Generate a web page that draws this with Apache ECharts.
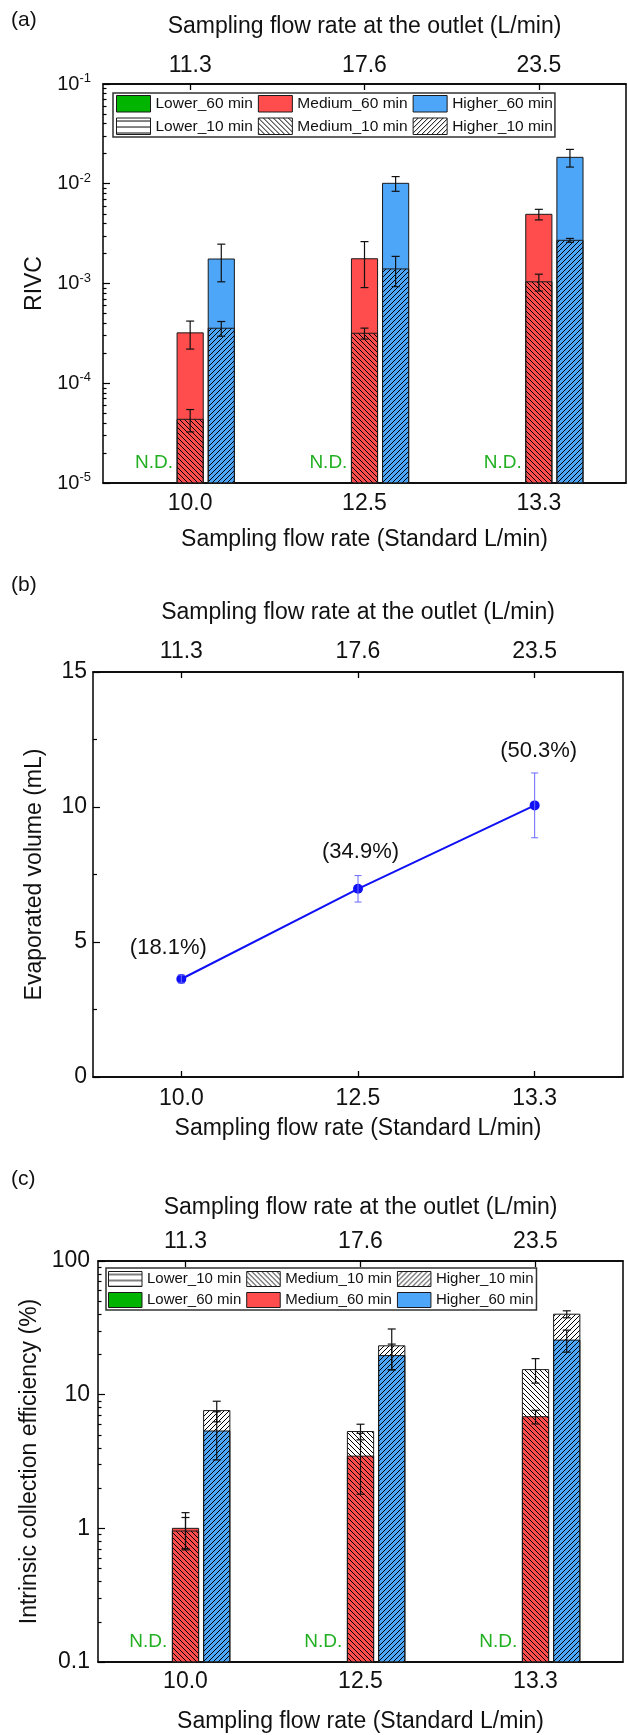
<!DOCTYPE html>
<html>
<head>
<meta charset="utf-8">
<script src="https://cdn.jsdelivr.net/npm/echarts@6/dist/echarts.min.js"></script>
<style>
  html, body { margin: 0; padding: 0; background: #fff; }
  #chart { width: 628px; height: 1735px; }
</style>
</head>
<body>
<div id="chart"></div>
<script>
// categories
const flowStd = ['10.0', '12.5', '13.3'];
const flowOutlet = ['11.3', '17.6', '23.5'];
const ndMarks = ['N.D.', 'N.D.', 'N.D.'];   // Lower group not detected

// (a) RIVC
const aMedium60 = [3.2e-4, 1.77e-3, 4.94e-3];
const aMedium60Err = [1.0e-4, 0.86e-3, 0.6e-3];
const aMedium10 = [4.35e-5, 3.17e-4, 1.04e-3];
const aMedium10Err = [1.1e-5, 0.4e-4, 0.2e-3];
const aHigher60 = [1.76e-3, 1.01e-2, 1.84e-2];
const aHigher60Err = [0.72e-3, 0.17e-2, 0.37e-2];
const aHigher10 = [3.56e-4, 1.40e-3, 2.71e-3];
const aHigher10Err = [0.6e-4, 0.47e-3, 0.12e-3];

// (b) evaporated volume (mL)
const evapVol = [3.63, 6.97, 10.06];
const evapErr = [0.15, 0.49, 1.2];
const evapPct = ['(18.1%)', '(34.9%)', '(50.3%)'];

// (c) intrinsic collection efficiency (%)
const cMedium10 = [0.955, 5.3, 15.4];
const cMedium10Err = [0.25, 0.71, 3.2];
const cMedium60 = [1.0, 3.47, 6.84];
const cMedium60Err = [0.31, 1.67, 0.8];
const cHigher10 = [7.6, 23.2, 40.0];
const cHigher10Err = [1.33, 7.8, 2.4];
const cHigher60 = [5.35, 19.6, 25.6];
const cHigher60Err = [2.1, 4.3, 4.8];

const FONT = "'Liberation Sans', Arial, sans-serif";
const TXT = '#111';
const RED = '#ff4d4d', BLUE = '#4ea6f8', GREEN = '#00b400';
const BAR_W = 0.15, BAR_GAP = 0.19;

// hatch fills, transparent background so the solid bar shows through
function hatch(kind) {
  const s = kind === 'h' ? 6 : 5;
  const c = document.createElement('canvas');
  c.width = s; c.height = s;
  const g = c.getContext('2d');
  g.strokeStyle = '#000';
  g.lineWidth = 1;
  g.beginPath();
  if (kind === 'h') {
    g.moveTo(0, 3); g.lineTo(s, 3);
  } else {
    for (const k of [-s, 0, s]) {
      if (kind === '\\') { g.moveTo(k, 0); g.lineTo(k + s, s); }
      else { g.moveTo(k, s); g.lineTo(k + s, 0); }
    }
  }
  g.stroke();
  return { image: c, repeat: 'repeat' };
}

// bars on a log axis must start at the axis minimum, so they are drawn as custom rects
function slotShift(api, slot) {
  const band = api.size([1, 0])[0];
  return { w: band * BAR_W, dx: slot * band * BAR_W * (1 + BAR_GAP) };
}

function bars(name, vals, slot, xi, yi, fill, base, z) {
  return {
    type: 'custom', name: name, xAxisIndex: xi, yAxisIndex: yi, z: z, silent: true,
    itemStyle: { color: fill, borderColor: '#1a1a1a', borderWidth: 1 },
    data: vals.map((v, i) => [i, v]),
    renderItem: function (params, api) {
      const i = api.value(0), v = api.value(1);
      const s = slotShift(api, slot);
      const top = api.coord([i, v]);
      const bot = api.coord([i, base]);
      return {
        type: 'rect',
        shape: { x: top[0] + s.dx - s.w / 2, y: top[1], width: s.w, height: bot[1] - top[1] },
        style: { fill: fill, stroke: '#1a1a1a', lineWidth: 1 }
      };
    }
  };
}

// Lower group: nothing detected, only the green N.D. note on the baseline
function lowerND(name, slot, xi, yi, fill, base, offX, showText, z) {
  return {
    type: 'custom', name: name, xAxisIndex: xi, yAxisIndex: yi, z: z, silent: true,
    itemStyle: { color: fill, borderColor: '#1a1a1a', borderWidth: 1 },
    data: ndMarks.map((t, i) => [i, base]),
    renderItem: function (params, api) {
      const i = api.value(0);
      if (!showText || !ndMarks[i]) return;
      const s = slotShift(api, slot);
      const p = api.coord([i, base]);
      return {
        type: 'text', x: p[0] + s.dx + offX, y: p[1] - 20,
        style: { text: ndMarks[i], fill: '#22b022', fontSize: 19, fontFamily: FONT, align: 'center', verticalAlign: 'middle' }
      };
    }
  };
}

// error bars drawn at the bar slot (-1 lower, 0 medium, 1 higher)
function errBars(vals, errs, slot, xi, yi, color, cap, lw) {
  return {
    type: 'custom', xAxisIndex: xi, yAxisIndex: yi, z: 6, silent: true,
    data: vals.map((v, i) => [i, v, errs[i]]),
    renderItem: function (params, api) {
      const i = api.value(0), v = api.value(1), e = api.value(2);
      const s = slotShift(api, slot);
      const hi = api.coord([i, v + e]);
      const lo = api.coord([i, v - e]);
      const x = hi[0] + s.dx;
      const st = { stroke: color, lineWidth: lw };
      return {
        type: 'group', children: [
          { type: 'line', shape: { x1: x, y1: hi[1], x2: x, y2: lo[1] }, style: st },
          { type: 'line', shape: { x1: x - cap, y1: hi[1], x2: x + cap, y2: hi[1] }, style: st },
          { type: 'line', shape: { x1: x - cap, y1: lo[1], x2: x + cap, y2: lo[1] }, style: st }
        ]
      };
    }
  };
}

function minorLog(e0, e1) {
  const out = [];
  for (let e = e0; e < e1; e++) for (let m = 2; m <= 9; m++) out.push(m * Math.pow(10, e));
  return out;
}

const axLine = { lineStyle: { color: '#000', width: 1.5 }, onZero: false };

function catAxis(grid, pos, data, name, nameGap, margin) {
  return {
    type: 'category', gridIndex: grid, position: pos, data: data,
    axisLine: axLine,
    axisTick: { show: true, inside: true, alignWithLabel: true, length: 6, lineStyle: { color: '#000', width: 1.3 } },
    axisLabel: { color: TXT, fontSize: 23, margin: margin, fontFamily: FONT },
    name: name, nameLocation: 'middle', nameGap: nameGap,
    nameTextStyle: { color: TXT, fontSize: 23, fontFamily: FONT }
  };
}

function logAxis(grid, min, max, name, nameGap, label, minor) {
  const ax = {
    type: 'log', logBase: 10, gridIndex: grid, position: 'left', min: min, max: max,
    axisLine: minor ? { show: false } : axLine,
    splitLine: { show: false },
    axisTick: { show: true, inside: true, length: minor ? 3.5 : 7, lineStyle: { color: '#000', width: 1.2 } },
    axisLabel: minor ? { show: false } : label
  };
  if (minor) ax.axisTick.customValues = minor;
  if (name) {
    ax.name = name; ax.nameLocation = 'middle'; ax.nameGap = nameGap;
    ax.nameTextStyle = { color: TXT, fontSize: 23, fontFamily: FONT };
  }
  return ax;
}

const legendBase = {
  orient: 'horizontal', icon: 'rect', selectedMode: false,
  itemGap: 5, backgroundColor: '#fff', borderColor: '#333', borderWidth: 1.5,
  itemStyle: { borderColor: '#1a1a1a', borderWidth: 1 },
  textStyle: { color: TXT, fontSize: 15.5, fontFamily: FONT }
};

const chart = echarts.init(document.getElementById('chart'));

chart.setOption({
  animation: false,
  textStyle: { fontFamily: FONT },
  title: [
    { text: '(a)', left: 11, top: 10, padding: 0, textStyle: { fontSize: 21, fontWeight: 'normal', color: TXT, fontFamily: FONT } },
    { text: '(b)', left: 11, top: 575, padding: 0, textStyle: { fontSize: 21, fontWeight: 'normal', color: TXT, fontFamily: FONT } },
    { text: '(c)', left: 11, top: 1169, padding: 0, textStyle: { fontSize: 21, fontWeight: 'normal', color: TXT, fontFamily: FONT } }
  ],
  grid: [
    { left: 103, top: 84, width: 523, height: 399, show: true, borderColor: '#000', borderWidth: 1.5 },
    { left: 93, top: 672, width: 530, height: 405, show: true, borderColor: '#000', borderWidth: 1.5 },
    { left: 98, top: 1261, width: 525, height: 401, show: true, borderColor: '#000', borderWidth: 1.5 }
  ],
  legend: [
    Object.assign({}, legendBase, {
      left: 113, top: 93, width: 470, padding: [2, 2, 2, 3],
      itemWidth: 34, itemHeight: 16.5,
      data: ['Lower_60 min', 'Medium_60 min', 'Higher_60 min', 'Lower_10 min', 'Medium_10 min', 'Higher_10 min']
    }),
    Object.assign({}, legendBase, {
      left: 106, top: 1268, width: 470, padding: [3, 3, 2, 2],
      itemWidth: 33.5, itemHeight: 15,
      textStyle: { color: TXT, fontSize: 15, fontFamily: FONT },
      data: ['Lower_10 min', 'Medium_10 min', 'Higher_10 min', 'Lower_60 min', 'Medium_60 min', 'Higher_60 min']
    })
  ],
  xAxis: [
    catAxis(0, 'bottom', flowStd, 'Sampling flow rate (Standard L/min)', 45, 9),
    catAxis(0, 'top', flowOutlet, 'Sampling flow rate at the outlet (L/min)', 46, 7),
    catAxis(1, 'bottom', flowStd, 'Sampling flow rate (Standard L/min)', 40, 10),
    catAxis(1, 'top', flowOutlet, 'Sampling flow rate at the outlet (L/min)', 48, 9),
    catAxis(2, 'bottom', flowStd, 'Sampling flow rate (Standard L/min)', 48, 8.5),
    catAxis(2, 'top', flowOutlet, 'Sampling flow rate at the outlet (L/min)', 42, 7.5)
  ],
  yAxis: [
    logAxis(0, 1e-5, 1e-1, 'RIVC', 54, {
      color: TXT, margin: 12,
      formatter: v => '{b|10}{s|' + Math.round(Math.log10(v)) + '}',
      rich: {
        b: { fontSize: 20, lineHeight: 24, color: TXT, fontFamily: FONT },
        s: { fontSize: 13, lineHeight: 13, verticalAlign: 'top', color: TXT, fontFamily: FONT }
      }
    }),
    logAxis(0, 1e-5, 1e-1, null, 0, null, minorLog(-5, -1)),
    {
      type: 'value', gridIndex: 1, min: 0, max: 15, interval: 5,
      axisLine: axLine, splitLine: { show: false },
      axisTick: { show: true, inside: true, length: 7, lineStyle: { color: '#000', width: 1.2 } },
      minorTick: { show: true, splitNumber: 2, length: 4, lineStyle: { color: '#000', width: 1.2 } },
      axisLabel: { color: TXT, fontSize: 23, margin: 6, fontFamily: FONT },
      name: 'Evaporated volume (mL)', nameLocation: 'middle', nameGap: 47,
      nameTextStyle: { color: TXT, fontSize: 23, fontFamily: FONT }
    },
    logAxis(2, 0.1, 100, 'Intrinsic collection efficiency (%)', 53, {
      color: TXT, fontSize: 23, margin: 8, fontFamily: FONT,
      formatter: v => (v < 1 ? v.toFixed(1) : String(Math.round(v)))
    }),
    logAxis(2, 0.1, 100, null, 0, null, minorLog(-1, 2))
  ],
  series: [
    // (a) 60 min solid bars, 10 min hatch bars overlaid in front
    lowerND('Lower_60 min', -1, 0, 0, GREEN, 1e-5, -5, true, 2),
    bars('Medium_60 min', aMedium60, 0, 0, 0, RED, 1e-5, 2),
    bars('Higher_60 min', aHigher60, 1, 0, 0, BLUE, 1e-5, 2),
    lowerND('Lower_10 min', -1, 0, 0, hatch('h'), 1e-5, 0, false, 3),
    bars('Medium_10 min', aMedium10, 0, 0, 0, hatch('\\'), 1e-5, 3),
    bars('Higher_10 min', aHigher10, 1, 0, 0, hatch('/'), 1e-5, 3),
    errBars(aMedium60, aMedium60Err, 0, 0, 0, '#111', 4, 1.2),
    errBars(aMedium10, aMedium10Err, 0, 0, 0, '#111', 4, 1.2),
    errBars(aHigher60, aHigher60Err, 1, 0, 0, '#111', 4, 1.2),
    errBars(aHigher10, aHigher10Err, 1, 0, 0, '#111', 4, 1.2),

    // (b)
    {
      type: 'line', xAxisIndex: 2, yAxisIndex: 2, z: 4, silent: true,
      data: evapVol,
      symbol: 'circle', symbolSize: 10,
      lineStyle: { color: '#1010f5', width: 2 },
      itemStyle: { color: '#1010f5' },
      label: {
        show: true, position: 'top', color: TXT, fontSize: 22, fontFamily: FONT,
        formatter: p => evapPct[p.dataIndex]
      },
      labelLayout: p => ({ dx: [-13, 2.5, 4][p.dataIndex], dy: [-10.5, -16, -33][p.dataIndex] })
    },
    errBars(evapVol, evapErr, 0, 2, 2, '#6a6aff', 3.5, 1),

    // (c)
    lowerND('Lower_10 min', -1, 4, 3, hatch('h'), 0.1, 0, false, 3),
    bars('Medium_10 min', cMedium10, 0, 4, 3, hatch('\\'), 0.1, 3),
    bars('Higher_10 min', cHigher10, 1, 4, 3, hatch('/'), 0.1, 3),
    lowerND('Lower_60 min', -1, 4, 3, GREEN, 0.1, -6, true, 2),
    bars('Medium_60 min', cMedium60, 0, 4, 3, RED, 0.1, 2),
    bars('Higher_60 min', cHigher60, 1, 4, 3, BLUE, 0.1, 2),
    errBars(cMedium60, cMedium60Err, 0, 4, 3, '#111', 4, 1.2),
    errBars(cMedium10, cMedium10Err, 0, 4, 3, '#111', 4, 1.2),
    errBars(cHigher60, cHigher60Err, 1, 4, 3, '#111', 4, 1.2),
    errBars(cHigher10, cHigher10Err, 1, 4, 3, '#111', 4, 1.2)
  ]
});
</script>
</body>
</html>
